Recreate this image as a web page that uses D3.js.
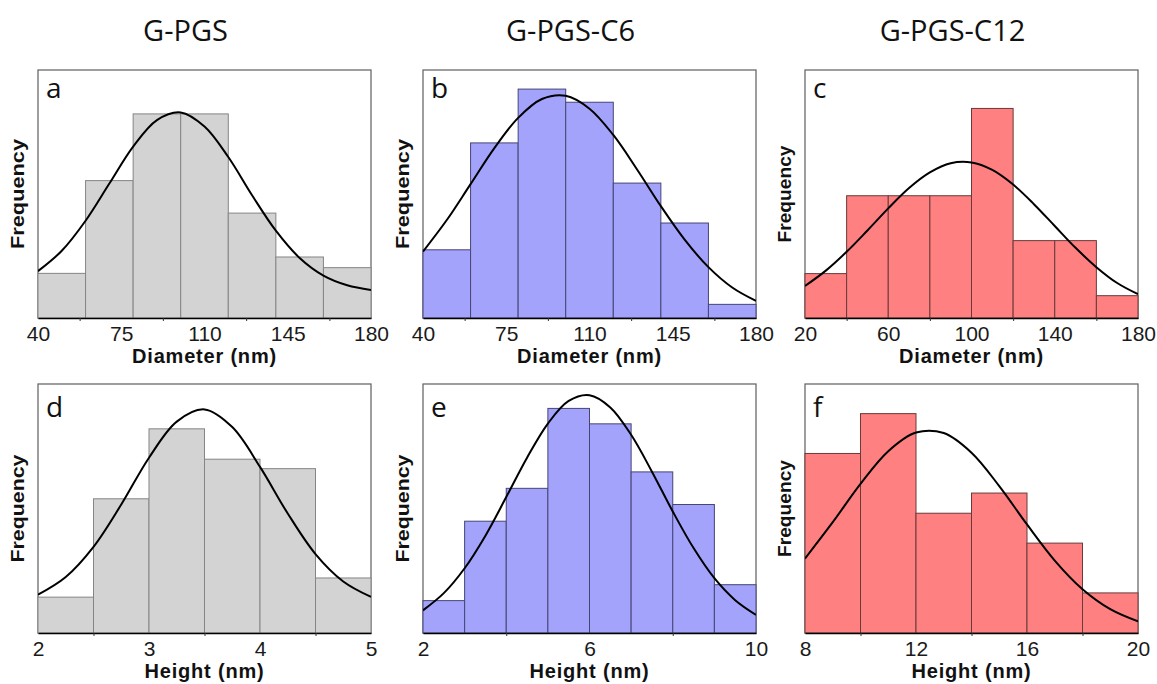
<!DOCTYPE html>
<html>
<head>
<meta charset="utf-8">
<script src="https://cdn.jsdelivr.net/npm/d3@7"></script>
<style>
  html, body { margin: 0; padding: 0; background: #fff; }
  svg { display: block; }
</style>
</head>
<body>
<svg id="chart" width="1157" height="684"></svg>
<script>
// ---------------- DATA ----------------
const columnTitles = ["G-PGS", "G-PGS-C6", "G-PGS-C12"];
const panelLetters = ["a", "b", "c", "d", "e", "f"];
const xTitles = ["Diameter (nm)", "Diameter (nm)", "Diameter (nm)", "Height (nm)", "Height (nm)", "Height (nm)"];
const yTitle = "Frequency";

// bin edges (x) and bar heights (relative frequency, 0-100 of panel height)
const edgesA = [40, 60, 80, 100, 120, 140, 160, 180];
const freqA  = [18.0, 55.4, 82.3, 82.3, 42.3, 24.6, 20.3];
const edgesB = [40, 60, 80, 100, 120, 140, 160, 180];
const freqB  = [27.5, 70.6, 92.3, 87.0, 54.4, 38.3, 5.5];
const edgesC = [20, 40, 60, 80, 100, 120, 140, 160, 180];
const freqC  = [17.9, 49.3, 49.3, 49.3, 84.5, 31.2, 31.2, 9.0];
const edgesD = [2, 2.5, 3, 3.5, 4, 4.5, 5];
const freqD  = [14.4, 53.9, 82.0, 69.8, 66.0, 22.1];
const edgesE = [2, 3, 4, 5, 6, 7, 8, 9, 10];
const freqE  = [13.0, 44.9, 58.1, 90.2, 84.0, 64.7, 51.6, 19.4];
const edgesF = [8, 10, 12, 14, 16, 18, 20];
const freqF  = [72.1, 88.1, 48.1, 56.2, 36.1, 16.1];

// fitted distribution curves
const fitXA = [40, 50, 60, 70, 80, 90, 100, 110, 120, 130, 140, 150, 160, 170, 180];
const fitYA = [18.9, 27.1, 39.2, 54.2, 69.1, 79.8, 82.9, 77.2, 64.9, 49.5, 35.2, 24.2, 17.1, 13.2, 11.3];
const fitXB = [40, 50, 60, 70, 80, 90, 100, 110, 120, 130, 140, 150, 160, 170, 180];
const fitYB = [26.8, 39.5, 54.0, 68.5, 80.7, 88.3, 89.6, 84.4, 73.8, 59.9, 45.1, 31.6, 20.5, 12.3, 6.9];
const fitXC = [20, 30, 40, 50, 60, 70, 80, 90, 100, 110, 120, 130, 140, 150, 160, 170, 180];
const fitYC = [12.9, 19.1, 26.7, 35.3, 44.2, 52.4, 58.7, 62.4, 62.7, 59.7, 53.8, 45.9, 37.1, 28.3, 20.5, 14.1, 9.6];
const fitXD = [2, 2.25, 2.5, 2.75, 3, 3.25, 3.5, 3.75, 4, 4.25, 4.5, 4.75, 5];
const fitYD = [15.4, 22.5, 34.6, 51.6, 70.4, 84.9, 89.8, 82.7, 66.7, 48.0, 31.7, 20.7, 14.5];
const fitXE = [2, 2.5, 3, 3.5, 4, 4.5, 5, 5.5, 6, 6.5, 7, 7.5, 8, 8.5, 9, 9.5, 10];
const fitYE = [9.1, 16.0, 26.0, 39.1, 54.6, 70.4, 84.1, 93.2, 95.5, 90.6, 79.6, 64.8, 48.8, 34.1, 22.0, 13.2, 7.3];
const fitXF = [8, 9, 10, 11, 12, 13, 14, 15, 16, 17, 18, 19, 20];
const fitYF = [29.9, 44.5, 59.9, 73.0, 80.5, 80.3, 72.4, 59.0, 43.6, 29.1, 17.6, 9.6, 4.7];

// axis ticks
const ticksA = [40, 75, 110, 145, 180];
const minorA = [57.5, 92.5, 127.5, 162.5];
const ticksB = [40, 75, 110, 145, 180];
const minorB = [57.5, 92.5, 127.5, 162.5];
const ticksC = [20, 60, 100, 140, 180];
const minorC = [40, 80, 120, 160];
const ticksD = [2, 3, 4, 5];
const minorD = [2.5, 3.5, 4.5];
const ticksE = [2, 6, 10];
const minorE = [4, 8];
const ticksF = [8, 12, 16, 20];
const minorF = [10, 14, 18];

// ---------------- STYLE / LAYOUT ----------------
const colLeft = [38, 423, 805];
const plotW = 333;
const rowTop = [70, 384];
const rowBottom = [318, 633];
const fills   = ["#d3d3d3", "#a3a3fc", "#ff8080"];
const strokes = ["#858585", "#454575", "#6a3a3a"];
const yLabelLen = [110, 110, 97, 108, 108, 97];

const panels = [
  {edges: edgesA, freq: freqA, fx: fitXA, fy: fitYA, ticks: ticksA, minor: minorA},
  {edges: edgesB, freq: freqB, fx: fitXB, fy: fitYB, ticks: ticksB, minor: minorB},
  {edges: edgesC, freq: freqC, fx: fitXC, fy: fitYC, ticks: ticksC, minor: minorC},
  {edges: edgesD, freq: freqD, fx: fitXD, fy: fitYD, ticks: ticksD, minor: minorD},
  {edges: edgesE, freq: freqE, fx: fitXE, fy: fitYE, ticks: ticksE, minor: minorE},
  {edges: edgesF, freq: freqF, fx: fitXF, fy: fitYF, ticks: ticksF, minor: minorF}
];

const svg = d3.select("#chart");
const defs = svg.append("defs");

// column titles
columnTitles.forEach((t, i) => {
  svg.append("text")
    .attr("x", colLeft[i] + plotW / 2 - 19)
    .attr("y", 41)
    .attr("text-anchor", "middle")
    .attr("font-family", "'Open Sans', sans-serif")
    .attr("font-size", 29)
    .attr("fill", "#111")
    .text(t);
});

panels.forEach((p, i) => {
  const col = i % 3, row = Math.floor(i / 3);
  const x0 = colLeft[col], x1 = x0 + plotW;
  const y0 = rowTop[row], y1 = rowBottom[row];

  const x = d3.scaleLinear().domain([p.edges[0], p.edges[p.edges.length - 1]]).range([x0, x1]);
  const y = d3.scaleLinear().domain([0, 100]).range([y1, y0]);

  const g = svg.append("g");

  const clipId = "clip" + i;
  defs.append("clipPath").attr("id", clipId)
    .append("rect").attr("x", x0).attr("y", y0).attr("width", x1 - x0).attr("height", y1 - y0);

  // frame
  g.append("rect")
    .attr("x", x0).attr("y", y0).attr("width", x1 - x0).attr("height", y1 - y0)
    .attr("fill", "#fff").attr("stroke", "#6a6a6a").attr("stroke-width", 1.3);

  // bars
  const bins = p.freq.map((f, k) => ({a: p.edges[k], b: p.edges[k + 1], f: f}));
  g.append("g").selectAll("rect").data(bins).join("rect")
    .attr("x", d => x(d.a))
    .attr("y", d => y(d.f))
    .attr("width", d => x(d.b) - x(d.a))
    .attr("height", d => y(0) - y(d.f))
    .attr("fill", fills[col])
    .attr("stroke", strokes[col])
    .attr("stroke-width", 1);

  // fit curve
  const line = d3.line().x(d => x(d[0])).y(d => y(d[1])).curve(d3.curveCatmullRom.alpha(0.5));
  g.append("path")
    .datum(p.fx.map((v, k) => [v, p.fy[k]]))
    .attr("d", line)
    .attr("fill", "none")
    .attr("stroke", "#000")
    .attr("stroke-width", 2)
    .attr("clip-path", `url(#${clipId})`);

  // x axis
  const axis = d3.axisBottom(x).tickValues(p.ticks).tickSize(0).tickPadding(8)
    .tickFormat(d3.format("d"));
  const ax = g.append("g").attr("transform", `translate(0,${y1})`).call(axis);
  ax.select(".domain").attr("stroke", "#000").attr("stroke-width", 1.6);
  ax.selectAll(".tick text")
    .attr("font-family", "'Liberation Sans', Arial, sans-serif")
    .attr("font-size", 21)
    .attr("fill", "#1a1a1a");
  const axMinor = d3.axisBottom(x).tickValues(p.minor).tickSize(3).tickFormat("");
  const am = g.append("g").attr("transform", `translate(0,${y1})`).call(axMinor);
  am.select(".domain").remove();
  am.selectAll(".tick line").attr("stroke", "#333");

  // x title
  g.append("text")
    .attr("x", (x0 + x1) / 2)
    .attr("y", y1 + 45)
    .attr("text-anchor", "middle")
    .attr("font-family", "'Liberation Sans', Arial, sans-serif")
    .attr("font-weight", "bold")
    .attr("font-size", 20)
    .attr("letter-spacing", 0.8)
    .attr("fill", "#111")
    .text(xTitles[i]);

  // y title
  const yc = (y0 + y1) / 2;
  const yx = x0 - 14;
  g.append("text")
    .attr("transform", `translate(${yx},${yc}) rotate(-90)`)
    .attr("text-anchor", "middle")
    .attr("font-family", "'Liberation Sans', Arial, sans-serif")
    .attr("font-weight", "bold")
    .attr("font-size", 18)
    .attr("textLength", yLabelLen[i])
    .attr("lengthAdjust", "spacingAndGlyphs")
    .attr("fill", "#111")
    .text(yTitle);

  // panel letter
  g.append("text")
    .attr("x", x0 + 8)
    .attr("y", y0 + (row === 0 ? 28 : 33))
    .attr("font-family", "'Open Sans', sans-serif")
    .attr("font-size", 28)
    .attr("fill", "#111")
    .text(panelLetters[i]);
});
</script>
</body>
</html>
